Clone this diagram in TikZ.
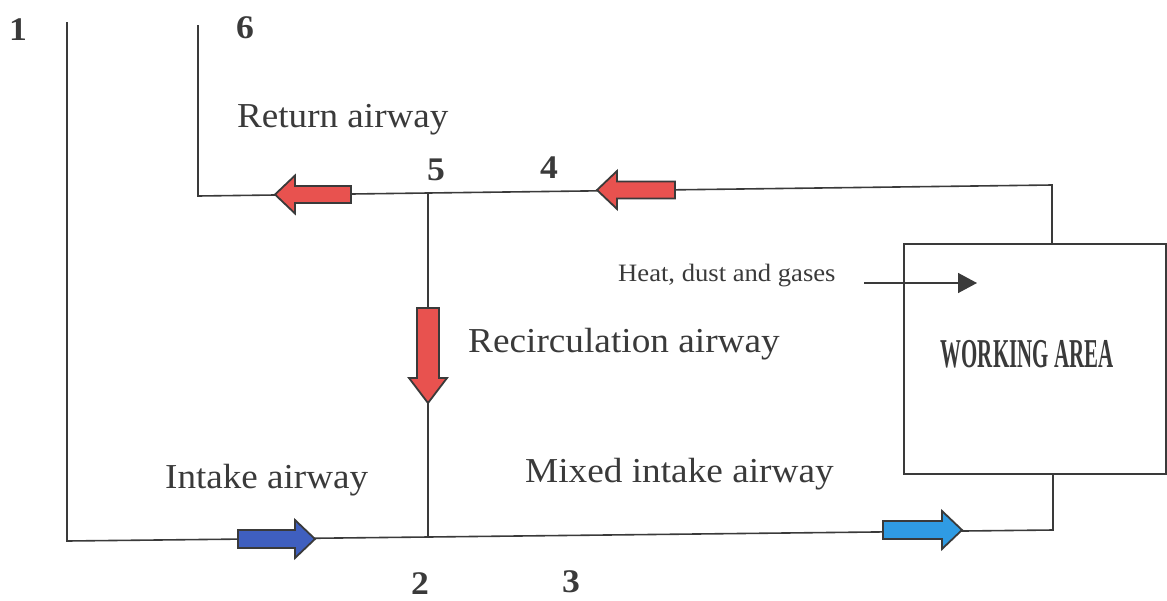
\documentclass[tikz,border=0pt]{standalone}
\usepackage{fontspec}
\setmainfont{Liberation Serif}
\usetikzlibrary{arrows.meta}

\definecolor{ink}{HTML}{3A3A3A}
\definecolor{returnred}{HTML}{E8524F}
\definecolor{intakeblue}{HTML}{3F5FBF}
\definecolor{mixedblue}{HTML}{2F9BE3}

\tikzset{
  airway/.style={draw=ink, line width=1.6pt},
  arrowbody/.style={draw=ink, line width=1.8pt, line join=miter},
  label/.style={text=ink, inner sep=0pt, anchor=base west,
                font=\fontsize{35}{38}\selectfont},
  smalllabel/.style={text=ink, inner sep=0pt, anchor=base west,
                font=\fontsize{25}{27}\selectfont},
  station/.style={text=ink, inner sep=0pt,
                font=\fontsize{33}{35}\selectfont\bfseries},
}

% block arrow: tail point, direction, length, shaft half-width,
% head half-width, head length, fill colour
\newcommand\airflowarrow[7]{%
  \filldraw[arrowbody, fill=#7, shift={#1}, rotate=#2]
    (0,-#4) -- ({#3-#6},-#4) -- ({#3-#6},-#5) -- (#3,0)
    -- ({#3-#6},#5) -- ({#3-#6},#4) -- (0,#4) -- cycle;}

\begin{document}
\begin{tikzpicture}[x=1pt, y=-1pt]
\useasboundingbox (0,0) rectangle (1167,600);

% junctions of the airway network
\coordinate (intaketop) at (67,22);
\coordinate (intakecorner) at (67,541);
\coordinate (j2) at (428,537);
\coordinate (mixedcorner) at (1053,530);
\coordinate (boxbottom) at (1053,473);
\coordinate (returntop) at (198,25);
\coordinate (returncorner) at (198,196);
\coordinate (j5) at (428,193);
\coordinate (faceoutcorner) at (1052,185);
\coordinate (boxtop) at (1052,243);
\coordinate (heatstart) at (864,283);
\coordinate (heatend) at (977,283);

% working area
\node[draw=ink, line width=1.6pt, anchor=north west,
      minimum width=262pt, minimum height=230pt, inner sep=0pt]
      (work) at (903,243) {};
\node[text=ink, inner sep=0pt, font=\fontsize{41}{43}\selectfont\bfseries]
      (worklabel) at (1027,354) {\scalebox{0.51}[1]{WORKING AREA}};

% airways
\draw[airway] (intaketop) -- (intakecorner) -- (j2) -- (mixedcorner) -- (boxbottom);
\draw[airway] (returntop) -- (returncorner) -- (j5) -- (faceoutcorner) -- (boxtop);
\draw[airway] (j5) -- (j2);

% heat, dust and gases entering the working area
\draw[ink, line width=1.5pt, -{Triangle[length=19pt,width=20pt]}]
      (heatstart) -- (heatend);

% flow direction arrows
\airflowarrow{(351,194.5)}{180}{76}{8.5}{19}{20}{returnred}
\airflowarrow{(675,190)}{180}{78}{8.5}{19}{20}{returnred}
\airflowarrow{(428,308)}{-90}{95}{11}{19}{25}{returnred}
\airflowarrow{(238,539)}{0}{77}{9}{19}{20}{intakeblue}
\airflowarrow{(883,530)}{0}{79}{9}{19}{20}{mixedblue}

% airway labels
\node[label] (lreturn) at (237,127) {\scalebox{1.06}[1]{Return airway}};
\node[label] (lrecirc) at (468,352) {\scalebox{1.065}[1]{Recirculation airway}};
\node[label] (lintake) at (165,488) {\scalebox{1.06}[1]{Intake airway}};
\node[label] (lmixed) at (525,482) {\scalebox{1.065}[1]{Mixed intake airway}};
\node[smalllabel] (lheat) at (618,281) {\scalebox{1.065}[1]{Heat, dust and gases}};

% station numbers
\node[station] (s1) at (18,30) {\scalebox{1.08}[1]{1}};
\node[station] (s6) at (245,28) {\scalebox{1.08}[1]{6}};
\node[station] (s5) at (436,170) {\scalebox{1.08}[1]{5}};
\node[station] (s4) at (549,168) {\scalebox{1.08}[1]{4}};
\node[station] (s2) at (420,584) {\scalebox{1.08}[1]{2}};
\node[station] (s3) at (571,582) {\scalebox{1.08}[1]{3}};
\end{tikzpicture}
\end{document}
